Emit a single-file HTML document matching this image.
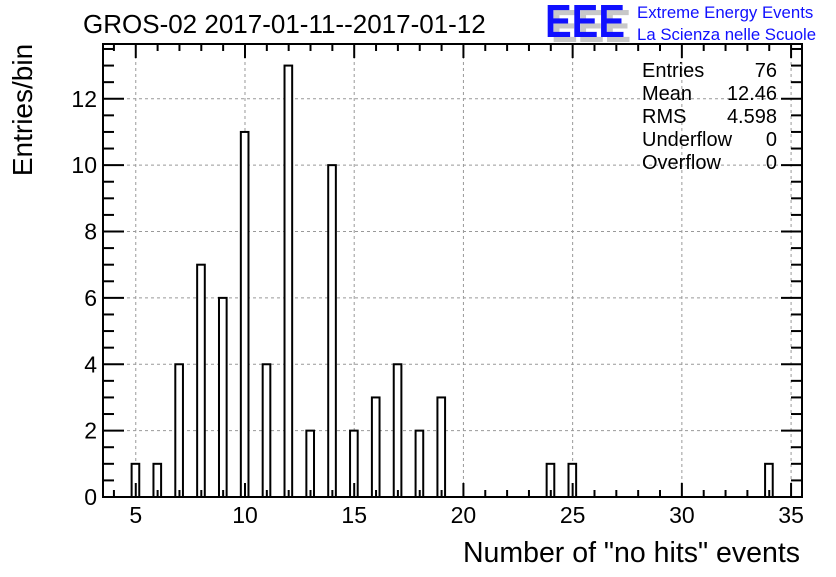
<!DOCTYPE html>
<html><head><meta charset="utf-8"><style>
body{margin:0;background:#fff;}
svg text{font-family:"Liberation Sans",sans-serif;}
</style></head><body>
<svg id="c" width="836" height="572" xmlns="http://www.w3.org/2000/svg">
<text x="83" y="33" font-size="26">GROS-02 2017-01-11--2017-01-12</text>
<g>
<text x="551" y="42" font-size="46" font-weight="bold" fill="#c8c8c8" textLength="80" lengthAdjust="spacingAndGlyphs">EEE</text>
<text x="545" y="37" font-size="46" font-weight="bold" fill="#1010ff" textLength="80" lengthAdjust="spacingAndGlyphs">EEE</text>
<text x="637" y="18" font-size="16.8" fill="#1010ff">Extreme Energy Events</text>
<text x="637" y="40" font-size="16.8" fill="#1010ff">La Scienza nelle Scuole</text>
</g>
<g id="grid"></g><g id="bars"></g><g id="axes"></g>
<g font-size="20">
<text x="642" y="77">Entries</text><text x="777" y="77" text-anchor="end">76</text>
<text x="642" y="100">Mean</text><text x="777" y="100" text-anchor="end">12.46</text>
<text x="642" y="123">RMS</text><text x="777" y="123" text-anchor="end">4.598</text>
<text x="642" y="146">Underflow</text><text x="777" y="146" text-anchor="end">0</text>
<text x="642" y="169">Overflow</text><text x="777" y="169" text-anchor="end">0</text>
</g>
<text x="800" y="562" font-size="28.5" text-anchor="end">Number of "no hits" events</text>
<text transform="translate(32,110) rotate(-90)" font-size="28" text-anchor="middle">Entries/bin</text>
</svg>
<script>
const categories=[5,6,7,8,9,10,11,12,13,14,15,16,17,18,19,24,25,34];
const counts=[1,1,4,7,6,11,4,13,2,10,2,3,4,2,3,1,1,1];
const xTicks=[5,10,15,20,25,30,35];
const yTicks=[0,2,4,6,8,10,12];
const X0=3.5,X1=35.5,Y0=0,Y1=13.65,L=103,R=802,T=44,B=497;
const sx=v=>L+(v-X0)/(X1-X0)*(R-L);
const sy=v=>B-(v-Y0)/(Y1-Y0)*(B-T);
const NS="http://www.w3.org/2000/svg";
function mk(tag,attrs,parent){const e=document.createElementNS(NS,tag);for(const k in attrs)e.setAttribute(k,attrs[k]);document.getElementById(parent).appendChild(e);return e;}
xTicks.forEach(t=>{const g=mk('line',{x1:sx(t),x2:sx(t),y1:T,y2:B,stroke:'#999','stroke-dasharray':'3,3'},'grid');

});
yTicks.forEach(t=>{const g=mk('line',{x1:L,x2:R,y1:sy(t),y2:sy(t),stroke:'#999','stroke-dasharray':'3,3'},'grid');

});
categories.forEach((c,i)=>{const b=mk('rect',{x:sx(c-0.19),y:sy(counts[i]),width:sx(c+0.16)-sx(c-0.19),height:sy(0)-sy(counts[i]),fill:'#fff',stroke:'#000','stroke-width':2},'bars');

});
const f=mk('rect',{x:L,y:T,width:R-L,height:B-T,fill:'none',stroke:'#000','stroke-width':2},'axes');


for(let v=4;v<=35;v++){const maj=v%5===0,len=maj?14:7;
mk('line',{x1:sx(v),x2:sx(v),y1:B,y2:B-len,stroke:'#000','stroke-width':2},'axes');
mk('line',{x1:sx(v),x2:sx(v),y1:T,y2:T+len,stroke:'#000','stroke-width':2},'axes');}
for(let v=0;v<=13.6;v+=0.5){const maj=v%2===0,len=maj?21:11;
mk('line',{x1:L,x2:L+len,y1:sy(v),y2:sy(v),stroke:'#000','stroke-width':2},'axes');
mk('line',{x1:R,x2:R-len,y1:sy(v),y2:sy(v),stroke:'#000','stroke-width':2},'axes');}
xTicks.forEach(t=>{const e=mk('text',{x:sx(t),y:523,'font-size':23,'text-anchor':'middle'},'axes');e.textContent=t;

});
yTicks.forEach(t=>{const e=mk('text',{x:97,y:sy(t)+8,'font-size':23,'text-anchor':'end'},'axes');e.textContent=t;

});
</script>
</body></html>
